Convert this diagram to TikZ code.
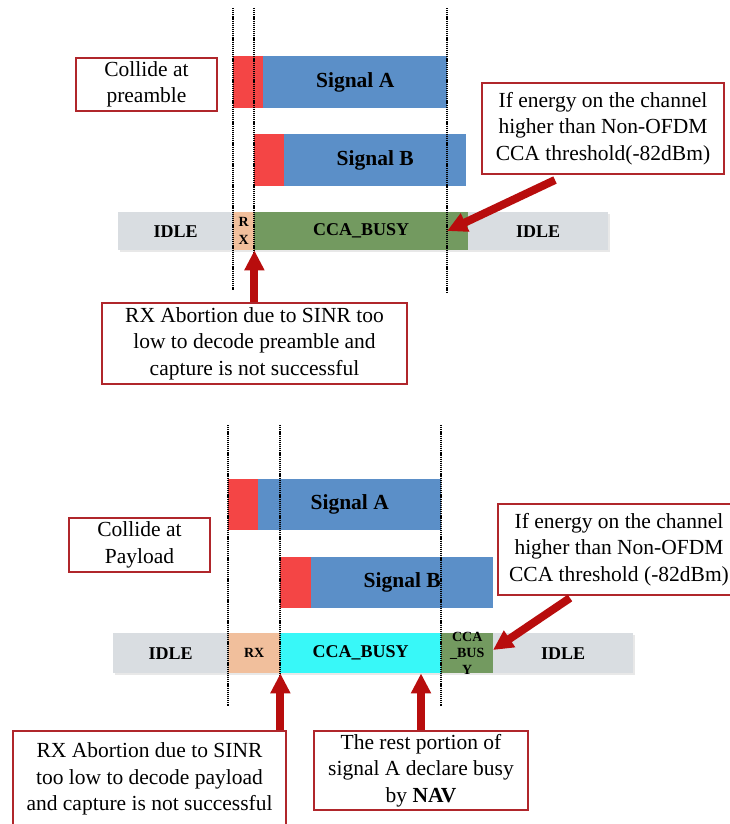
\documentclass[tikz,border=0pt]{standalone}
\usepackage{fontspec}
\setmainfont{Liberation Serif}
\usetikzlibrary{arrows.meta,shadows}
\definecolor{prered}{HTML}{F44545}
\definecolor{sigblue}{HTML}{5B8FC8}
\definecolor{idlegray}{HTML}{D9DDE1}
\definecolor{rxpeach}{HTML}{F1BF9C}
\definecolor{busygreen}{HTML}{739A60}
\definecolor{busycyan}{HTML}{38F8F8}
\definecolor{boxred}{HTML}{B0262B}
\definecolor{arrred}{HTML}{B80D0D}
\begin{document}
\begin{tikzpicture}[x=1pt,y=-1pt,
  blk/.style={draw=none, inner sep=0pt, anchor=north west},
  seg/.style={blk, font=\fontsize{18}{20}\selectfont\bfseries,
    drop shadow={opacity=0.18, shadow xshift=1.5pt, shadow yshift=-2pt}},
  small/.style={align=center, font=\fontsize{14}{17}\selectfont\bfseries},
  siglabel/.style={font=\fontsize{21.5}{24}\selectfont\bfseries},
  note/.style={draw=boxred, line width=2pt, fill=white, inner sep=0pt, anchor=north west,
    align=center, font=\fontsize{21.5}{26.5}\selectfont},
  bigarrow/.style={draw=arrred, line width=8pt, -{Triangle[width=19pt,length=20pt]}},
  vline/.style={line width=1.3pt, dash pattern=on 1.2pt off 0.9pt}]
\clip (0,0) rectangle (730,824);
\fill[white] (0,0) rectangle (730,824);

% ================= TOP =================
% signal A
\node[blk, fill=prered, minimum width=30pt, minimum height=52pt] (a1p) at (233,56) {};
\node[blk, fill=sigblue, minimum width=184pt, minimum height=52pt] (a1) at (263,56) {};
\node[siglabel] at (a1.center) {Signal A};
% signal B
\node[blk, fill=prered, minimum width=30pt, minimum height=52pt] (b1p) at (254,134) {};
\node[blk, fill=sigblue, minimum width=182pt, minimum height=52pt] (b1) at (284,134) {};
\node[siglabel] at (b1.center) {Signal B};
% state bar
\node[seg, fill=idlegray, minimum width=115pt, minimum height=38pt] (idle1) at (118,212) {IDLE};
\node[seg, fill=rxpeach, minimum width=21pt, minimum height=38pt] (rx1) at (233,212) {};
\node[small, font=\fontsize{14}{18}\selectfont\bfseries] at (rx1.center) {R\\X};
\node[seg, fill=busygreen, minimum width=214pt, minimum height=38pt] (busy1) at (254,212) {CCA\_BUSY};
\node[seg, fill=idlegray, minimum width=140pt, minimum height=38pt] (idle1b) at (468,212) {IDLE};
% dotted guides
\draw[vline] (233,8) -- (233,290);
\draw[vline] (254,8) -- (254,290);
\draw[vline] (447,8) -- (447,293);
% notes
\node[note, minimum width=141pt, minimum height=53pt] (col1) at (75,57) {Collide at\\preamble};
\node[note, minimum width=242pt, minimum height=91pt] (en1) at (481,82)
  {If energy on the channel\\higher than Non-OFDM\\CCA threshold(-82dBm)};
\node[note, minimum width=305pt, minimum height=81pt] (ab1) at (101,302)
  {RX Abortion due to SINR too\\low to decode preamble and\\capture is not successful};
% arrows
\coordinate (t1s) at (555,180);
\coordinate (t1e) at (447,231);
\draw[bigarrow] (t1s) -- (t1e);
\draw[bigarrow] (ab1.north -| rx1.south east) -- (rx1.south east);

% ================= BOTTOM =================
\node[blk, fill=prered, minimum width=30pt, minimum height=51pt] (a2p) at (228,479) {};
\node[blk, fill=sigblue, minimum width=183pt, minimum height=51pt] (a2) at (258,479) {};
\node[siglabel] at (a2.center) {Signal A};
\node[blk, fill=prered, minimum width=31pt, minimum height=51pt] (b2p) at (280,557) {};
\node[blk, fill=sigblue, minimum width=182pt, minimum height=51pt] (b2) at (311,557) {};
\node[siglabel] at (b2.center) {Signal B};
% state bar
\node[seg, fill=idlegray, minimum width=115pt, minimum height=40pt] (idle2) at (113,633) {IDLE};
\node[seg, fill=rxpeach, minimum width=52pt, minimum height=40pt, font=\fontsize{14}{17}\selectfont\bfseries] (rx2) at (228,633) {RX};
\node[seg, fill=busycyan, minimum width=161pt, minimum height=40pt] (busy2) at (280,633) {CCA\_BUSY};
\node[seg, fill=busygreen, minimum width=52pt, minimum height=40pt] (busy2g) at (441,633) {};
\node[small, font=\fontsize{14}{16.5}\selectfont\bfseries] at (busy2g.center) {CCA\\\_BUS\\Y};
\node[seg, fill=idlegray, minimum width=140pt, minimum height=40pt] (idle2b) at (493,633) {IDLE};
% dotted guides
\draw[vline] (228,425) -- (228,706);
\draw[vline] (280,425) -- (280,706);
\draw[vline] (441,425) -- (441,706);
% notes
\node[note, minimum width=141pt, minimum height=54pt] (col2) at (68,517) {Collide at\\Payload};
\node[note, minimum width=242pt, minimum height=91pt] (en2) at (497,503)
  {If energy on the channel\\higher than Non-OFDM\\CCA threshold (-82dBm)};
\node[note, minimum width=273pt, minimum height=96pt] (ab2) at (12,730)
  {RX Abortion due to SINR\\too low to decode payload\\and capture is not successful};
\node[note, minimum width=214pt, minimum height=79pt] (nav) at (313,730)
  {The rest portion of\\signal A declare busy\\by \textbf{NAV}};
% arrows
\coordinate (t2s) at (570,598);
\coordinate (t2e) at (493,650);
\draw[bigarrow] (t2s) -- (t2e);
\draw[bigarrow] (ab2.north -| rx2.south east) -- (rx2.south east);
\draw[bigarrow] (nav.north) -- (nav.north |- busy2.south);
\end{tikzpicture}
\end{document}
